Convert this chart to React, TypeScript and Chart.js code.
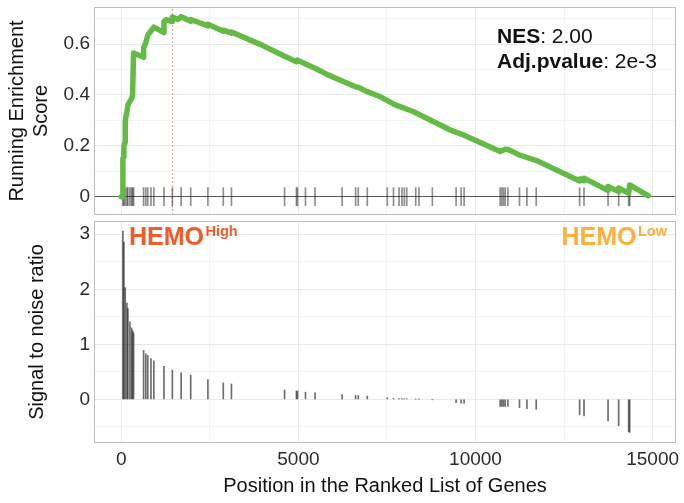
import React, { useEffect, useRef } from 'react';
import { Chart, registerables } from 'chart.js';

Chart.register(...registerables);

// ---------------- data ----------------
const peakPosition = 1442;
const nesValue = '2.00';
const adjPValue = '2e-3';

const hitPositions = [
  46, 74, 112, 159, 187, 244, 291, 319, 347, 630, 692, 748, 838, 920, 1205, 1442,
  1690, 1960, 2445, 2880, 3110, 4610, 4945, 4975, 5200, 5470, 6235, 6615, 6690,
  6945, 7510, 7685, 7841, 7925, 7991, 8059, 8313, 8406, 8782, 9452, 9594, 9678,
  10696, 10744, 10790, 10838, 10914, 11242, 11451, 11714, 12939, 13063, 13742,
  14041, 14324, 14352,
];
const signalValues = [
  3.06, 2.86, 2.03, 1.75, 1.65, 1.41, 1.3, 1.25, 1.21, 0.89, 0.83, 0.8, 0.74, 0.7,
  0.6, 0.53, 0.48, 0.44, 0.36, 0.3, 0.28, 0.17, 0.15, 0.15, 0.13, 0.12, 0.085, 0.07,
  0.07, 0.06, 0.03, 0.02, 0.015, 0.012, 0.01, 0.01, 0.005, 0.004, -0.005, -0.06,
  -0.07, -0.07, -0.13, -0.13, -0.13, -0.13, -0.13, -0.15, -0.17, -0.18, -0.28, -0.3,
  -0.39, -0.48, -0.59, -0.6,
];

const esPositions = [
  0, 46, 46, 74, 74, 112, 112, 159, 187, 244, 291, 319, 347, 630, 630, 692, 748, 838,
  920, 1205, 1205, 1260, 1442, 1442, 1600, 1690, 1960, 1960, 2445, 2445, 2880, 2880,
  3110, 3110, 3955, 4424, 4610, 4945, 4975, 5200, 5470, 5836, 6235, 6615, 6690, 6945,
  7297, 7720, 8237, 9274, 9678, 10696, 10838, 10914, 11242, 11723, 12939, 12939, 13063,
  13063, 13742, 13742, 14041, 14041, 14324, 14352, 14880,
];
const esScores = [
  0, 0, 0.15, 0.155, 0.2, 0.215, 0.3, 0.335, 0.36, 0.375, 0.385, 0.4, 0.565, 0.548,
  0.585, 0.605, 0.635, 0.652, 0.667, 0.645, 0.688, 0.696, 0.689, 0.707, 0.697, 0.708,
  0.69, 0.697, 0.672, 0.678, 0.651, 0.655, 0.643, 0.648, 0.597, 0.565, 0.552, 0.531,
  0.537, 0.522, 0.505, 0.479, 0.455, 0.432, 0.43, 0.413, 0.394, 0.362, 0.335, 0.263,
  0.242, 0.178, 0.187, 0.186, 0.164, 0.142, 0.062, 0.07, 0.063, 0.073, 0.024, 0.04,
  0.02, 0.034, 0.013, 0.046, 0.003,
];

const xTickValues = [0, 2500, 5000, 7500, 10000, 12500, 15000];
const xTickLabels = ['0', '', '5000', '', '10000', '', '15000'];
const esTickValues = [0, 0.1, 0.2, 0.3, 0.4, 0.5, 0.6, 0.7];
const esTickLabels = ['0', '', '0.2', '', '0.4', '', '0.6', ''];
const snrTickValues = [-0.5, 0, 0.5, 1, 1.5, 2, 2.5, 3];
const snrTickLabels = ['', '0', '', '1', '', '2', '', '3'];

// ---------------- style ----------------
const FF = "'Liberation Sans', Arial, Helvetica, sans-serif";
const X_MIN = -770;
const X_MAX = 15660;
const ES_MIN = -0.072;
const ES_MAX = 0.746;
const SNR_MIN = -0.793;
const SNR_MAX = 3.241;
const HIT_HALF = 0.0355;
const GREEN = '#63BB45';
const MAJOR_GRID = '#E9E9E9';
const MINOR_GRID = '#F3F3F3';

const gridColor = (labels: string[], values: number[], zeroColor?: string) => (ctx: any) => {
  const v = ctx.tick ? ctx.tick.value : null;
  if (zeroColor && v === 0) return zeroColor;
  const i = values.indexOf(v);
  return i >= 0 && labels[i] !== '' ? MAJOR_GRID : MINOR_GRID;
};

const labelFor = (labels: string[], values: number[]) => (value: any) => {
  const i = values.indexOf(Number(value));
  return i >= 0 ? labels[i] : '';
};

const panelBorder = {
  id: 'panelBorder',
  afterDraw(chart: any) {
    const { ctx, chartArea: a } = chart;
    ctx.save();
    ctx.strokeStyle = '#BDBDBD';
    ctx.lineWidth = 1;
    ctx.strokeRect(
      Math.round(a.left) + 0.5,
      Math.round(a.top) + 0.5,
      Math.round(a.right - a.left) - 1,
      Math.round(a.bottom - a.top) - 1,
    );
    ctx.restore();
  },
};

const statsText = {
  id: 'statsText',
  afterDraw(chart: any) {
    const { ctx, chartArea: a } = chart;
    const x = a.left + 403;
    const rows: [string, string][] = [
      ['NES', ': ' + nesValue],
      ['Adj.pvalue', ': ' + adjPValue],
    ];
    ctx.save();
    ctx.fillStyle = '#111';
    ctx.textBaseline = 'alphabetic';
    ctx.textAlign = 'left';
    rows.forEach(([b, r], i) => {
      const y = a.top + 35.5 + i * 25.5;
      ctx.font = `bold 21px ${FF}`;
      ctx.fillText(b, x, y);
      const w = ctx.measureText(b).width;
      ctx.font = `21px ${FF}`;
      ctx.fillText(r, x + w, y);
    });
    ctx.restore();
  },
};

const groupText = {
  id: 'groupText',
  afterDraw(chart: any) {
    const { ctx, chartArea: a } = chart;
    const base = a.top + 24;
    ctx.save();
    ctx.textBaseline = 'alphabetic';
    ctx.textAlign = 'left';
    ctx.fillStyle = '#F15A29';
    ctx.font = `bold 25px ${FF}`;
    let x = a.left + 35;
    ctx.fillText('HEMO', x, base);
    let w = ctx.measureText('HEMO').width;
    ctx.font = `bold 14.5px ${FF}`;
    ctx.fillText('High', x + w + 1.5, base - 9);
    ctx.fillStyle = '#FBB040';
    ctx.font = `bold 25px ${FF}`;
    w = ctx.measureText('HEMO').width;
    ctx.font = `bold 14.5px ${FF}`;
    const wl = ctx.measureText('Low').width;
    x = a.right - 9 - (w + 1.5 + wl);
    ctx.font = `bold 25px ${FF}`;
    ctx.fillText('HEMO', x, base);
    ctx.font = `bold 14.5px ${FF}`;
    ctx.fillText('Low', x + w + 1.5, base - 9);
    ctx.restore();
  },
};

const xScaleBase = (showLabels: boolean) => ({
  type: 'linear' as const,
  min: X_MIN,
  max: X_MAX,
  offset: false,
  afterBuildTicks: (s: any) => {
    s.ticks = xTickValues.map((v) => ({ value: v }));
  },
  grid: { color: gridColor(xTickLabels, xTickValues), lineWidth: 1, drawTicks: false, offset: false },
  border: { display: false },
  ticks: {
    display: showLabels,
    autoSkip: false,
    maxRotation: 0,
    padding: 5,
    color: '#2b2b2b',
    font: { family: FF, size: 19 },
    callback: labelFor(xTickLabels, xTickValues),
  },
});

export default function App() {
  const topRef = useRef<HTMLCanvasElement>(null);
  const botRef = useRef<HTMLCanvasElement>(null);

  useEffect(() => {
    const top = new Chart(topRef.current as HTMLCanvasElement, {
      type: 'line',
      data: {
        datasets: [
          {
            type: 'line',
            data: esPositions.map((x, i) => ({ x, y: esScores[i] })),
            borderColor: GREEN,
            borderWidth: 5.5,
            pointRadius: 0,
            tension: 0,
            borderJoinStyle: 'round',
            borderCapStyle: 'round',
            order: 1,
          },
          {
            type: 'bar',
            data: hitPositions.map((x) => ({ x, y: [-HIT_HALF, HIT_HALF] })),
            backgroundColor: 'rgba(30,30,30,0.5)',
            borderWidth: 0,
            barThickness: 1,
            order: 2,
          },
          {
            type: 'line',
            data: [
              { x: peakPosition, y: ES_MIN },
              { x: peakPosition, y: ES_MAX },
            ],
            borderColor: 'rgba(240,100,100,0.65)',
            borderWidth: 1,
            borderDash: [2, 2],
            pointRadius: 0,
            order: 3,
          },
        ] as any,
      },
      options: {
        animation: false,
        responsive: false,
        events: [],
        layout: { padding: { left: 0, right: 8, top: 7, bottom: 3 } },
        plugins: { legend: { display: false }, tooltip: { enabled: false } },
        scales: {
          x: {
            ...xScaleBase(false),
            afterFit: (s: any) => {
              s.height = 0;
              s.paddingLeft = 0;
              s.paddingRight = 0;
            },
          },
          y: {
            type: 'linear',
            min: ES_MIN,
            max: ES_MAX,
            afterBuildTicks: (s: any) => {
              s.ticks = esTickValues.map((v) => ({ value: v }));
            },
            afterFit: (s: any) => {
              s.width = 94;
              s.paddingTop = 0;
              s.paddingBottom = 0;
            },
            grid: {
              color: gridColor(esTickLabels, esTickValues, '#5a5a5a'),
              lineWidth: 1,
              drawTicks: false,
            },
            border: { display: false },
            ticks: {
              padding: 4,
              color: '#2b2b2b',
              font: { family: FF, size: 19 },
              callback: labelFor(esTickLabels, esTickValues),
            },
            title: {
              display: true,
              text: ['Running Enrichment', 'Score'],
              color: '#111',
              font: { family: FF, size: 20 },
              padding: { top: 5, bottom: 0 },
            },
          },
        },
      } as any,
      plugins: [panelBorder, statsText],
    });

    const bot = new Chart(botRef.current as HTMLCanvasElement, {
      type: 'line',
      data: {
        datasets: [
          {
            type: 'bar',
            data: hitPositions.map((x, i) => ({ x, y: [0, signalValues[i]] })),
            backgroundColor: 'rgba(20,20,20,0.62)',
            borderWidth: 0,
            barThickness: 1,
          },
        ] as any,
      },
      options: {
        animation: false,
        responsive: false,
        events: [],
        layout: { padding: { left: 0, right: 8, top: 3, bottom: 0 } },
        plugins: { legend: { display: false }, tooltip: { enabled: false } },
        scales: {
          x: {
            ...xScaleBase(true),
            title: {
              display: true,
              text: 'Position in the Ranked List of Genes',
              color: '#111',
              font: { family: FF, size: 20 },
              padding: { top: 0, bottom: 5 },
            },
            afterFit: (s: any) => {
              s.height = 60;
              s.paddingLeft = 0;
              s.paddingRight = 0;
            },
          },
          y: {
            type: 'linear',
            min: SNR_MIN,
            max: SNR_MAX,
            afterBuildTicks: (s: any) => {
              s.ticks = snrTickValues.map((v) => ({ value: v }));
            },
            afterFit: (s: any) => {
              s.width = 94;
              s.paddingTop = 0;
              s.paddingBottom = 0;
            },
            grid: {
              color: gridColor(snrTickLabels, snrTickValues),
              lineWidth: 1,
              drawTicks: false,
            },
            border: { display: false },
            ticks: {
              padding: 4,
              color: '#2b2b2b',
              font: { family: FF, size: 19 },
              callback: labelFor(snrTickLabels, snrTickValues),
            },
            title: {
              display: true,
              text: 'Signal to noise ratio',
              color: '#111',
              font: { family: FF, size: 20 },
              padding: { top: 25, bottom: 0 },
            },
          },
        },
      } as any,
      plugins: [panelBorder, groupText],
    });

    return () => {
      top.destroy();
      bot.destroy();
    };
  }, []);

  return (
    <div
      style={{
        position: 'fixed',
        left: 0,
        top: 0,
        width: 684,
        height: 503,
        background: '#ffffff',
      }}
    >
      <canvas
        ref={topRef}
        width={684}
        height={218}
        style={{ position: 'absolute', left: 0, top: 0, width: 684, height: 218 }}
      />
      <canvas
        ref={botRef}
        width={684}
        height={285}
        style={{ position: 'absolute', left: 0, top: 218, width: 684, height: 285 }}
      />
    </div>
  );
}
